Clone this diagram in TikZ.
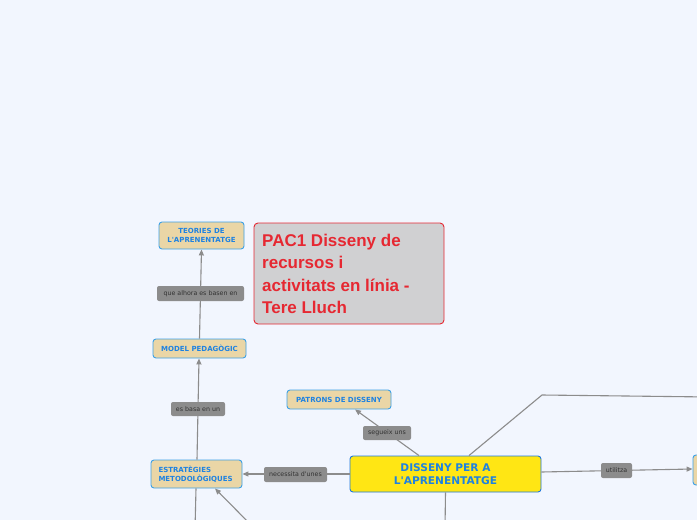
\documentclass[tikz,border=0pt]{standalone}
\usepackage{fontspec}
\setmainfont{Liberation Sans}
\newfontfamily\verd{DejaVu Sans}
\usetikzlibrary{arrows.meta}
\definecolor{bgc}{RGB}{242,246,254}
\definecolor{tanfill}{RGB}{234,214,166}
\definecolor{tanborder}{RGB}{60,160,230}
\definecolor{nodetext}{RGB}{30,130,225}
\definecolor{mainfill}{RGB}{255,230,20}
\definecolor{mainborder}{RGB}{30,120,220}
\definecolor{lblfill}{RGB}{140,140,140}
\definecolor{lbltext}{RGB}{50,50,50}
\definecolor{linec}{RGB}{140,140,140}
\definecolor{pacfill}{RGB}{208,208,210}
\definecolor{pacred}{RGB}{230,40,50}
\tikzset{
  topic/.style={draw=tanborder, fill=tanfill, line width=0.9pt, rounded corners=3pt,
    text=nodetext, font=\verd\fontsize{7}{9}\selectfont\bfseries, align=center, inner sep=1pt},
  mainnode/.style={draw=mainborder, fill=mainfill, line width=0.9pt, rounded corners=3pt,
    text=nodetext, font=\verd\fontsize{10.6}{12.5}\selectfont\bfseries, align=center, inner sep=1pt},
  lbl/.style={fill=lblfill, rounded corners=2pt, text=lbltext,
    font=\verd\fontsize{6.3}{7.5}\selectfont, inner sep=1pt},
  conn/.style={draw=linec, line width=1.1pt},
  arr/.style={conn, -{Triangle[length=6pt,width=5pt]}},
}
\begin{document}
\begin{tikzpicture}[x=1pt,y=-1pt]
\useasboundingbox (0,0) rectangle (697,520);
\clip (0,0) rectangle (697,520);
\fill[bgc] (0,0) rectangle (697,520);

% nodes
\node[topic, minimum width=85pt, minimum height=27pt] (teo) at (201.5,235.5) {TEORIES DE\\L'APRENENTATGE};
\node[draw=pacred, fill=pacfill, line width=0.9pt, rounded corners=4pt,
      minimum width=190pt, minimum height=101pt] (pac) at (349,273.5) {};
\node[anchor=north west, text=pacred, font=\fontsize{17}{22.5}\selectfont\bfseries, align=left, inner sep=0pt]
   (pactext) at (262,233.5) {PAC1 Disseny de\\recursos i\\activitats en línia -\\Tere Lluch};
\node[topic, minimum width=93pt, minimum height=19pt] (model) at (199.5,348.5) {MODEL PEDAGÒGIC};
\node[topic, minimum width=104pt, minimum height=19pt] (pat) at (339,399.5) {PATRONS DE DISSENY};
\node[topic, minimum width=91pt, minimum height=28pt, align=left, text width=76pt] (estr) at (196.5,474) {ESTRATÈGIES\\METODOLÒGIQUES};
\node[mainnode, minimum width=191pt, minimum height=36pt] (dis) at (445.5,474) {DISSENY PER A\\L'APRENENTATGE};
\node[topic, minimum width=96pt, minimum height=30pt] (right) at (741,470) {};

% free ends
\coordinate (bend) at (542,395);
\coordinate (offr) at (710,397);
\coordinate (offb1) at (445,530);
\coordinate (offb2) at (195,530);
\coordinate (offb3) at (256,530);

% connectors
\draw[arr] (model.north) -- (teo.south);
\draw[arr] ([xshift=0.5pt]estr.north) -- ([xshift=-0.5pt]model.south);
\draw[arr] ([xshift=-26.5pt]dis.north) -- ([xshift=16pt]pat.south);
\draw[arr] (dis.west) -- (estr.east);
\draw[arr] ([yshift=2pt]dis.east) -- ([yshift=1pt]right.west);
\draw[conn] ([xshift=23.5pt]dis.north) -- (bend) -- (offr);
\draw[conn] (dis.south) -- (offb1);
\draw[conn] ([xshift=-0.5pt]estr.south) -- (offb2);
\draw[arr] (offb3) -- ([xshift=18.5pt]estr.south);

% labels
\node[lbl, minimum width=87pt, minimum height=15pt] (l1) at (200.5,293.5) {que alhora es basen en};
\node[lbl, minimum width=54pt, minimum height=14pt] (l2) at (198,409) {es basa en un};
\node[lbl, minimum width=48pt, minimum height=14pt] (l3) at (387,433) {segueix uns};
\node[lbl, minimum width=63pt, minimum height=15pt] (l4) at (295.5,474.5) {necessita d'unes};
\node[lbl, minimum width=31pt, minimum height=15pt] (l5) at (616.5,470.5) {utilitza};
\end{tikzpicture}
\end{document}
